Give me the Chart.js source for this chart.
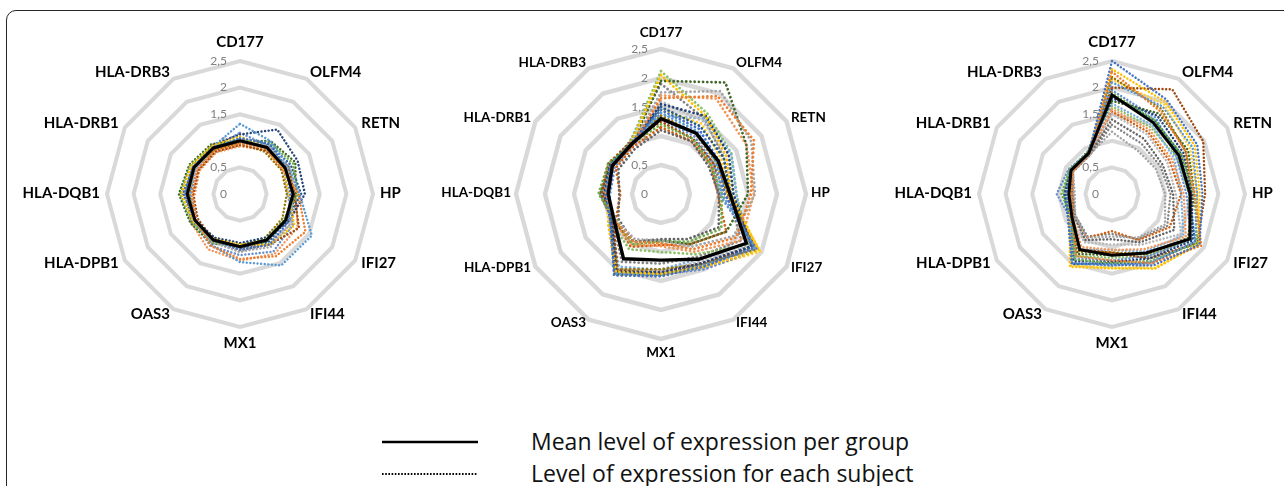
<!DOCTYPE html>
<html>
<head>
<meta charset="utf-8">
<script src="https://cdn.jsdelivr.net/npm/chart.js@4.4.1/dist/chart.umd.min.js"></script>
<style>
  html, body { margin: 0; padding: 0; background: #fff; overflow: hidden; }
  body { width: 1284px; height: 486px; position: relative; font-family: "Open Sans", Lato, sans-serif; }
  .frame { position: absolute; left: 6px; top: 10px; width: 1310px; height: 520px;
           border: 1.5px solid #262626; border-radius: 10px; }
  canvas { position: absolute; }
  #c1 { left: 0px; top: 14px; }
  #c2 { left: 436px; top: 4px; }
  #c3 { left: 880px; top: 14px; }
  .leg { position: absolute; }
  .legtext { position: absolute; left: 531px; font-size: 23px; line-height: 28px; color: #111; white-space: nowrap; }
</style>
</head>
<body>
<div class="frame"></div>
<canvas id="c1" width="480" height="360"></canvas>
<canvas id="c2" width="450" height="380"></canvas>
<canvas id="c3" width="404" height="360"></canvas>

<svg class="leg" style="left:382px;top:436px" width="96" height="44">
  <line x1="0" y1="6" x2="96" y2="6" stroke="#000" stroke-width="2.5"/>
  <line x1="0" y1="38" x2="96" y2="38" stroke="#000" stroke-width="2" stroke-dasharray="1.6 1.6"/>
</svg>
<div class="legtext" style="top:427px">Mean level of expression per group</div>
<div class="legtext" style="top:459px">Level of expression for each subject</div>

<script>
// axes, clockwise from the top
const genes = ['CD177', 'OLFM4', 'RETN', 'HP', 'IFI27', 'IFI44', 'MX1', 'OAS3',
  'HLA-DPB1', 'HLA-DQB1', 'HLA-DRB1', 'HLA-DRB3'];
const tickValues = [0, 0.5, 1, 1.5, 2, 2.5];
const tickLabels = ['0', '0,5', '1', '1,5', '2', '2,5'];

// group 1
const mean1 = [1.00, 1.01, 0.98, 1.00, 0.99, 1.00, 0.99, 1.00, 0.98, 0.99, 1.00, 1.00];
const subjects1 = [
  [1.05, 1.10, 1.00, 0.95, 1.05, 1.10, 1.05, 1.00, 0.98, 1.05, 1.02, 1.00],
  [0.95, 0.98, 0.92, 1.10, 1.42, 1.35, 1.22, 1.12, 0.95, 0.90, 0.92, 0.95],
  [1.00, 1.05, 1.02, 0.98, 1.10, 1.15, 1.08, 1.05, 1.00, 0.98, 0.95, 1.00],
  [1.08, 1.00, 0.95, 0.92, 1.18, 1.10, 0.95, 0.98, 1.02, 1.10, 1.06, 1.05],
  [1.32, 1.15, 1.05, 1.12, 1.56, 1.55, 1.28, 1.10, 0.95, 0.92, 0.96, 1.02],
  [1.02, 1.12, 1.15, 1.08, 0.95, 0.98, 1.00, 1.05, 1.05, 1.12, 1.08, 1.04],
  [1.12, 1.40, 1.25, 1.22, 1.05, 0.95, 0.92, 0.95, 0.98, 1.00, 0.98, 1.06],
  [0.92, 0.95, 1.05, 1.02, 1.28, 1.10, 1.05, 1.00, 0.92, 0.88, 0.90, 0.92],
  [0.98, 1.02, 0.98, 1.00, 0.98, 1.02, 1.00, 0.95, 1.05, 1.02, 1.04, 0.98],
  [0.96, 0.92, 0.90, 0.88, 0.92, 0.95, 0.98, 1.02, 1.00, 0.95, 0.98, 0.96],
  [1.04, 1.08, 1.10, 1.15, 1.00, 1.05, 1.02, 0.98, 0.96, 1.08, 1.00, 1.02],
  [1.00, 1.15, 1.20, 1.05, 1.02, 1.00, 0.95, 1.08, 1.08, 1.15, 1.10, 1.08],
  [1.15, 1.05, 0.95, 0.90, 1.15, 1.25, 1.15, 1.12, 1.00, 1.00, 0.95, 1.00],
  [0.90, 0.95, 0.98, 1.05, 1.25, 1.30, 1.25, 1.20, 1.06, 0.85, 0.88, 0.90],
  [1.00, 1.00, 1.05, 1.08, 1.12, 1.05, 1.10, 1.02, 0.95, 0.95, 0.98, 0.98]
];

// group 2
const mean2 = [1.30, 1.21, 1.14, 1.19, 1.70, 1.30, 1.14, 1.29, 0.93, 0.91, 0.97, 1.00];
const subjects2 = [
  [1.45, 1.30, 1.15, 1.10, 1.85, 1.45, 1.42, 1.62, 1.00, 0.95, 1.00, 1.02],
  [1.65, 1.95, 1.85, 1.55, 1.50, 1.10, 0.85, 0.95, 0.92, 0.95, 0.95, 0.98],
  [1.75, 2.05, 1.80, 1.62, 1.45, 1.05, 0.80, 0.90, 0.90, 0.95, 0.98, 1.00],
  [2.05, 1.55, 1.30, 1.20, 1.95, 1.45, 1.38, 1.55, 1.05, 0.92, 0.98, 1.02],
  [1.40, 1.25, 1.10, 1.05, 1.88, 1.42, 1.40, 1.58, 1.02, 0.90, 0.95, 1.00],
  [1.20, 1.10, 1.00, 1.05, 1.20, 0.95, 0.82, 1.00, 0.88, 1.08, 1.05, 1.00],
  [1.55, 1.55, 1.35, 1.25, 1.80, 1.38, 1.35, 1.55, 0.98, 0.98, 1.02, 1.00],
  [1.25, 1.10, 1.05, 1.10, 1.85, 1.40, 1.36, 1.52, 0.95, 1.02, 1.05, 1.04],
  [1.10, 1.05, 0.95, 1.00, 1.15, 0.90, 0.78, 0.95, 0.85, 0.72, 0.85, 0.90],
  [1.35, 1.20, 1.10, 1.15, 1.90, 1.40, 1.30, 1.50, 0.96, 0.95, 1.00, 1.03],
  [1.50, 1.35, 1.25, 1.20, 1.82, 1.40, 1.40, 1.60, 1.00, 0.93, 0.98, 1.00],
  [1.95, 2.22, 1.70, 1.50, 1.30, 1.00, 0.80, 0.95, 0.95, 1.05, 1.02, 1.00],
  [1.30, 1.15, 1.05, 1.00, 1.92, 1.50, 1.38, 1.56, 1.04, 0.88, 0.92, 0.98],
  [1.70, 1.90, 1.70, 1.60, 1.60, 1.15, 0.90, 1.00, 0.95, 0.98, 0.96, 0.98],
  [1.60, 1.45, 1.30, 1.25, 1.78, 1.35, 1.32, 1.50, 0.98, 1.00, 1.00, 1.02],
  [1.45, 1.40, 1.20, 1.15, 1.98, 1.48, 1.40, 1.60, 1.02, 0.94, 0.97, 1.00],
  [1.35, 1.50, 1.40, 1.30, 1.70, 1.30, 1.30, 1.45, 1.00, 0.92, 0.96, 0.98],
  [2.12, 1.60, 1.40, 1.30, 1.75, 1.20, 1.00, 1.10, 0.98, 1.00, 0.98, 1.05],
  [1.15, 1.05, 1.00, 0.98, 1.30, 1.00, 0.88, 1.05, 0.90, 0.70, 0.90, 0.95],
  [1.90, 1.50, 1.25, 1.15, 1.60, 1.25, 1.20, 1.35, 0.95, 1.05, 1.00, 1.06]
];

// group 3
const mean3 = [1.86, 1.55, 1.45, 1.47, 1.69, 1.28, 1.15, 1.21, 0.87, 0.81, 0.89, 0.88];
const subjects3 = [
  [2.50, 2.05, 1.85, 1.70, 1.90, 1.55, 1.33, 1.50, 0.95, 0.85, 0.90, 0.88],
  [2.30, 1.80, 1.60, 1.55, 1.94, 1.50, 1.25, 1.35, 0.85, 0.75, 0.85, 0.86],
  [1.17, 0.95, 0.95, 1.00, 1.15, 0.95, 0.80, 0.95, 0.80, 0.70, 0.85, 0.85],
  [2.35, 2.00, 1.80, 1.65, 1.88, 1.62, 1.40, 1.58, 0.92, 0.78, 0.86, 0.87],
  [2.10, 1.90, 1.75, 1.60, 1.80, 1.48, 1.35, 1.50, 0.90, 0.82, 0.88, 0.90],
  [1.90, 1.60, 1.50, 1.55, 1.85, 1.45, 1.30, 1.42, 0.88, 0.95, 0.92, 0.90],
  [1.80, 1.70, 1.55, 1.50, 1.75, 1.40, 1.28, 1.45, 0.92, 0.88, 0.90, 0.88],
  [2.00, 2.27, 1.98, 1.75, 1.85, 1.40, 1.10, 1.20, 0.90, 0.80, 0.88, 0.90],
  [1.40, 1.20, 1.10, 1.15, 1.35, 1.05, 0.85, 1.00, 0.82, 0.75, 0.86, 0.85],
  [2.20, 1.85, 1.60, 1.50, 1.70, 1.30, 1.10, 1.25, 0.85, 0.80, 0.88, 0.87],
  [1.85, 1.60, 1.50, 1.45, 1.80, 1.50, 1.30, 1.52, 0.95, 0.90, 0.92, 0.90],
  [1.75, 1.75, 1.65, 1.55, 1.65, 1.30, 1.15, 1.30, 0.88, 0.85, 0.90, 0.92],
  [1.95, 1.65, 1.40, 1.40, 1.72, 1.35, 1.25, 1.40, 0.90, 1.04, 0.94, 0.90],
  [1.60, 1.40, 1.30, 1.35, 1.60, 1.20, 1.05, 1.15, 0.85, 0.78, 0.86, 0.86],
  [1.50, 1.30, 1.20, 1.20, 1.50, 1.10, 0.95, 1.05, 0.82, 0.72, 0.85, 0.84],
  [2.15, 1.95, 1.70, 1.60, 1.90, 1.60, 1.38, 1.55, 0.90, 0.80, 0.88, 0.88],
  [1.70, 1.50, 1.35, 1.30, 1.55, 1.25, 1.05, 1.20, 0.85, 0.76, 0.87, 0.86],
  [1.65, 1.45, 1.40, 1.45, 1.70, 1.35, 1.20, 1.35, 0.88, 0.92, 0.91, 0.90],
  [1.55, 1.35, 1.25, 1.30, 1.25, 1.00, 0.70, 0.95, 0.84, 0.78, 0.87, 0.88],
  [1.30, 1.10, 1.05, 1.10, 1.20, 0.98, 0.75, 0.92, 0.80, 0.74, 0.84, 0.84]
];

// Excel-like series colours
const subjectColors = ['#4472C4', '#ED7D31', '#A5A5A5', '#FFC000', '#5B9BD5', '#70AD47',
  '#264478', '#9E480E', '#636363', '#997300', '#255E91', '#43682B',
  '#698ED0', '#F1975A', '#B7B7B7', '#FFCD33', '#7CAFDD', '#8CC168', '#D26012', '#848484'];

// tick labels and gene names drawn next to the scale
const radarText = {
  id: 'radarText',
  beforeDatasetsDraw(chart, args, opts) {
    const s = chart.scales.r, ctx = chart.ctx;
    ctx.save();
    ctx.font = opts.tickFont;
    ctx.fillStyle = '#808080';
    ctx.textAlign = 'right';
    ctx.textBaseline = 'middle';
    s.ticks.forEach(t => {
      const y = s.yCenter - s.getDistanceFromCenterForValue(t.value);
      ctx.fillText(t.label, s.xCenter - 13, y);
    });
    ctx.restore();
  },
  afterDraw(chart, args, opts) {
    const s = chart.scales.r, ctx = chart.ctx;
    ctx.save();
    ctx.font = opts.labelFont;
    ctx.fillStyle = '#000';
    ctx.textBaseline = 'middle';
    chart.data.labels.forEach((lab, i) => {
      const p = s.getPointPosition(i, s.drawingArea + opts.gap);
      const a = s.getIndexAngle(i);
      let y = p.y - 1;
      if (Math.abs(Math.sin(a)) < 0.01) {
        ctx.textAlign = 'center';
        y = Math.cos(a) > 0 ? s.yCenter - s.drawingArea - opts.topOff
                            : s.yCenter + s.drawingArea + opts.botOff;
      } else {
        ctx.textAlign = Math.sin(a) > 0 ? 'left' : 'right';
      }
      ctx.fillText(lab, p.x, y);
    });
    ctx.restore();
  }
};

function makeDatasets(mean, subjects, st) {
  const ds = [{
    label: 'Mean', data: mean, borderColor: '#000', borderWidth: st.meanWidth,
    borderJoinStyle: 'miter', pointRadius: 0, fill: false
  }];
  subjects.forEach((row, i) => ds.push({
    label: 'Subject ' + (i + 1), data: row,
    borderColor: subjectColors[i % subjectColors.length],
    borderWidth: st.dotWidth, borderDash: [0.01, st.dotGap], borderCapStyle: 'round',
    pointRadius: 0, fill: false
  }));
  return ds;
}

function makeChart(id, mean, subjects, st) {
  new Chart(document.getElementById(id), {
    type: 'radar',
    data: { labels: genes, datasets: makeDatasets(mean, subjects, st) },
    plugins: [radarText],
    options: {
      responsive: false,
      animation: false,
      layout: { padding: st.padding },
      elements: { line: { tension: 0 } },
      scales: {
        r: {
          min: 0,
          max: 2.5,
          ticks: {
            display: false,
            stepSize: 0.5,
            callback: (v) => tickLabels[tickValues.indexOf(v)]
          },
          pointLabels: { display: false },
          angleLines: { display: false },
          grid: { circular: false, color: '#d9d9d9', lineWidth: st.gridWidth }
        }
      },
      plugins: {
        legend: { display: false },
        tooltip: { enabled: false },
        radarText: {
          tickFont: '12px Lato',
          labelFont: 'bold ' + st.labelSize + 'px Lato',
          gap: st.gap, topOff: st.topOff, botOff: st.botOff
        }
      }
    }
  });
}

makeChart('c1', mean1, subjects1, {
  padding: { top: 47, bottom: 47, left: 107, right: 107 },
  meanWidth: 3, dotWidth: 2.5, dotGap: 3.6, gridWidth: 4,
  labelSize: 15, gap: 7, topOff: 19, botOff: 16
});
makeChart('c2', mean2, subjects2, {
  padding: { top: 45, bottom: 45, left: 80, right: 80 },
  meanWidth: 3.4, dotWidth: 2.8, dotGap: 4.2, gridWidth: 4.4,
  labelSize: 13.5, gap: 5, topOff: 16, botOff: 14
});
makeChart('c3', mean3, subjects3, {
  padding: { top: 47, bottom: 47, left: 99, right: 39 },
  meanWidth: 3, dotWidth: 2.5, dotGap: 3.6, gridWidth: 4,
  labelSize: 15, gap: 7, topOff: 19, botOff: 16
});
</script>
</body>
</html>
